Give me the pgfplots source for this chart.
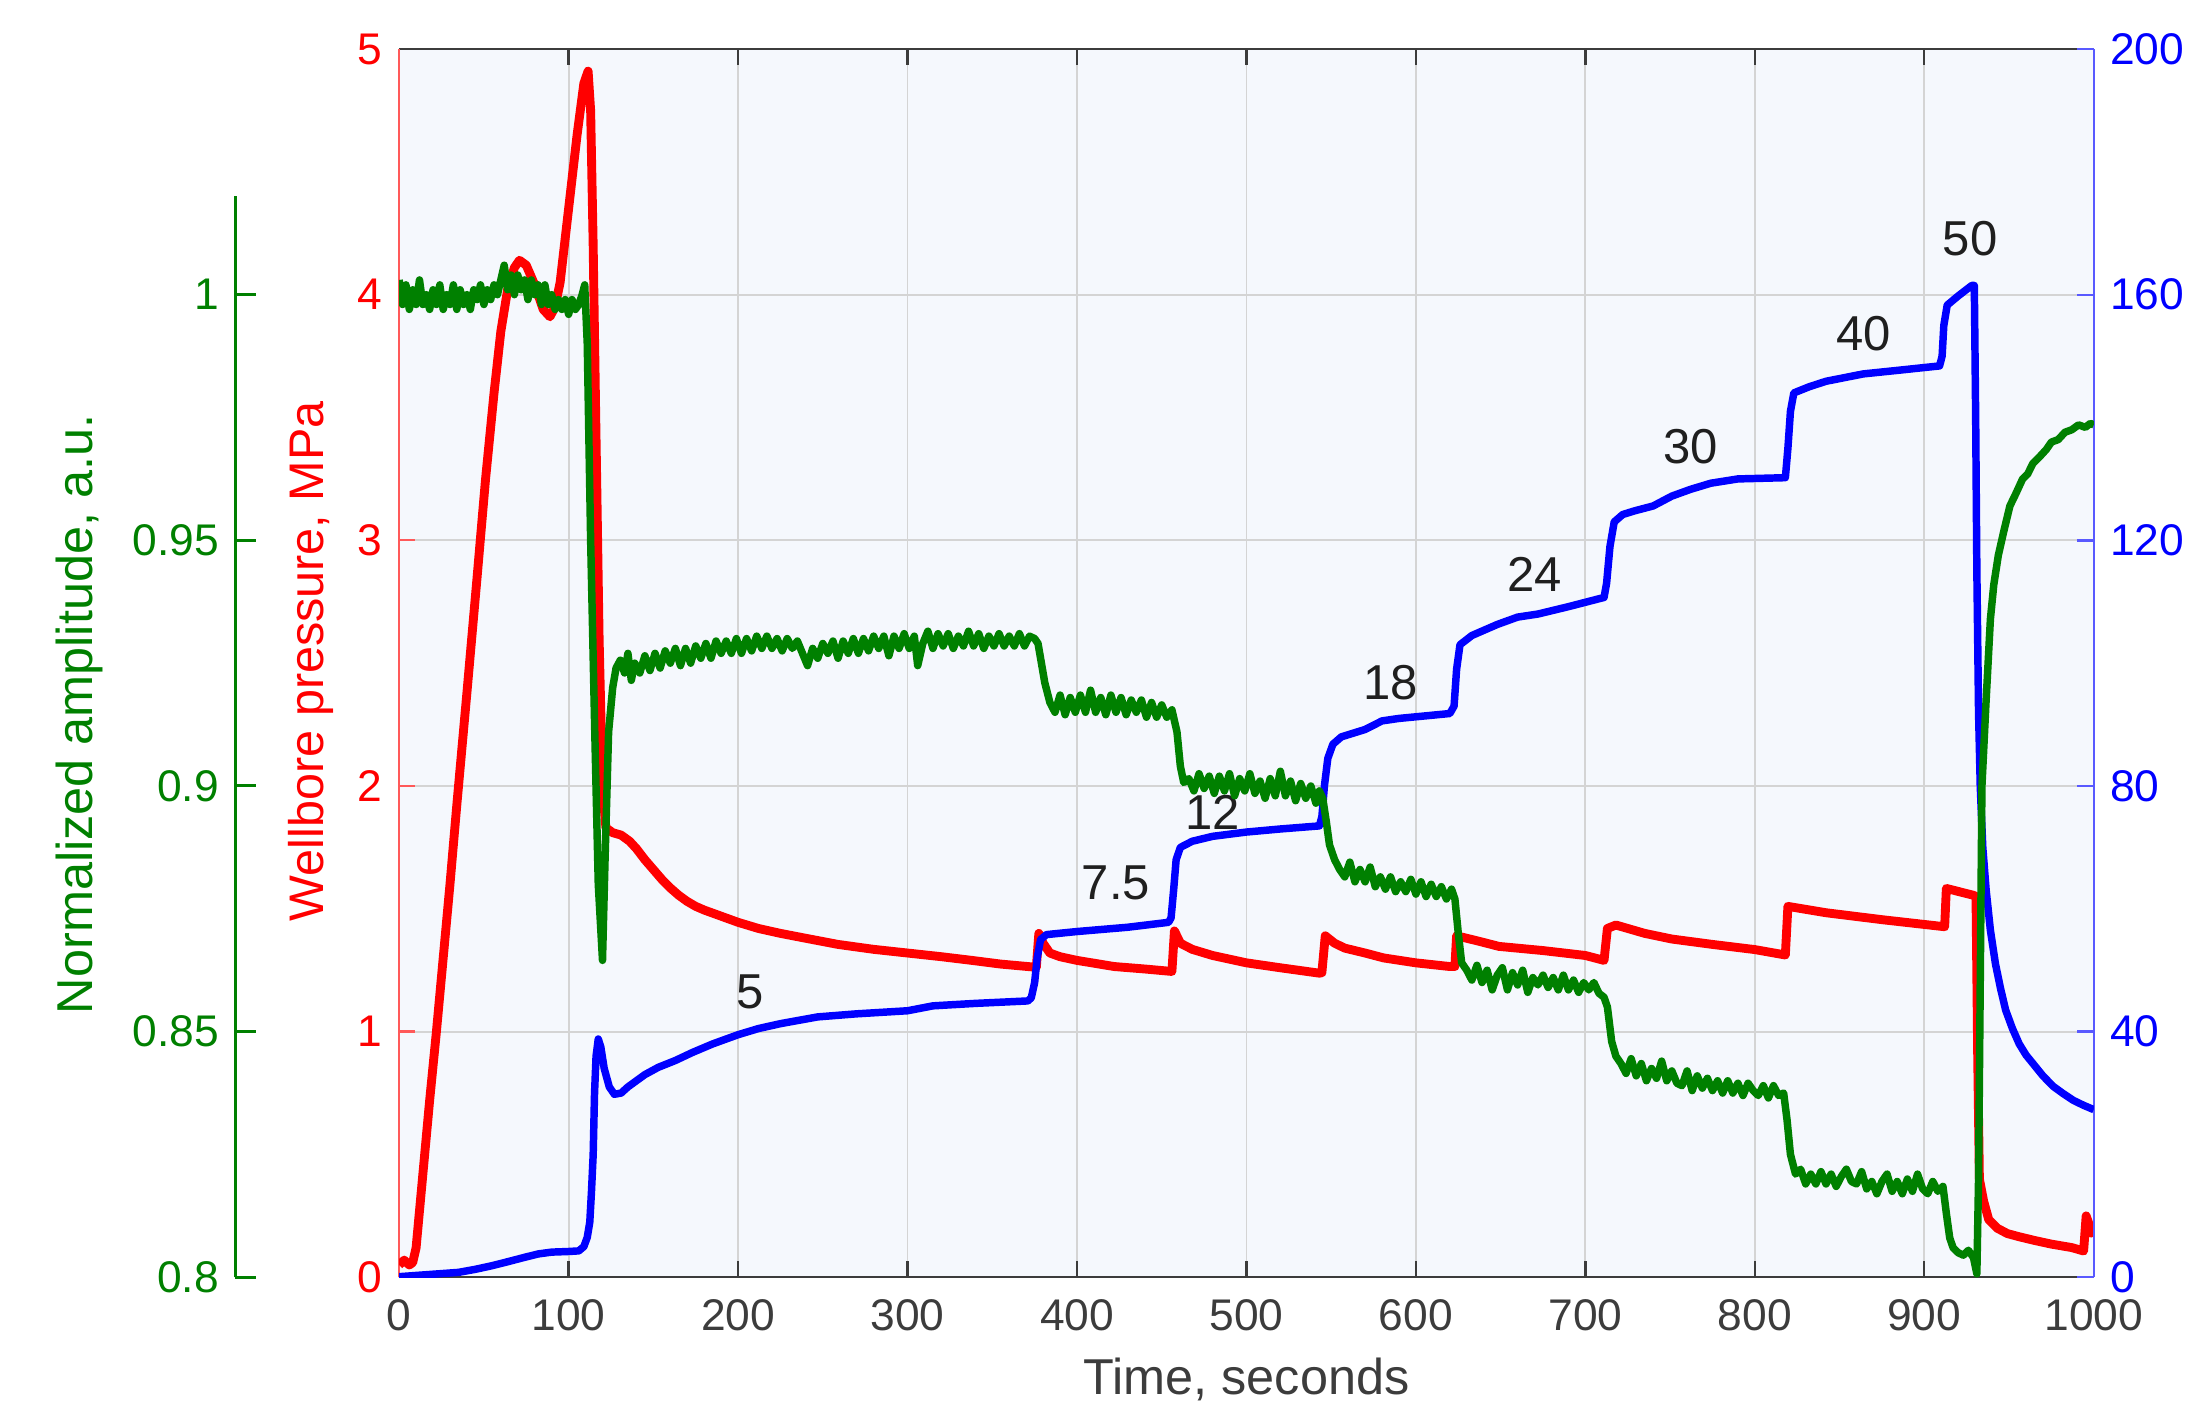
\documentclass[border=0pt]{standalone}
\usepackage{pgfplots}
\pgfplotsset{compat=1.18}
\usepackage{fontspec}
\setmainfont{Liberation Sans}
\setsansfont{Liberation Sans}
\definecolor{mgreen}{RGB}{0,128,0}
\definecolor{bgc}{RGB}{245,248,253}
\definecolor{axgray}{RGB}{60,60,60}
\begin{document}
\begin{tikzpicture}
\path[use as bounding box] (-85.5pt,-27.3pt) rectangle (384.9pt,273.6pt);
\pgfplotsset{
  base/.style={scale only axis, width=363pt, height=263.1pt, xmin=0, xmax=1000,
    /pgf/number format/assume math mode=true,
    /pgf/number format/1000 sep={},
    scaled ticks=false,
    tick label style={font=\fontsize{9.5}{11}\selectfont},
    label style={font=\fontsize{10.8}{13}\selectfont},
    major tick length=3.5pt,
  },
}
% ---------------- red: wellbore pressure ----------------
\begin{axis}[base, ymin=0, ymax=5,
  axis x line*=box, axis y line*=left,
  axis background/.style={fill=bgc},
  grid=major, major grid style={black!17, line width=0.4pt},
  xtick={0,100,...,1000}, ytick={0,1,...,5},
  x axis line style={axgray, line width=0.5pt},
  y axis line style={red!65, line width=0.5pt},
  xtick style={axgray, line width=0.5pt}, ytick style={red!65, line width=0.5pt},
  xticklabel style={text=axgray, yshift=-1.2pt}, yticklabel style={text=red},
  xlabel={Time, seconds},
  xlabel style={text=axgray, at={(axis description cs:0.5,-0.0832)}, anchor=center},
  ylabel={Wellbore pressure, MPa},
  ylabel style={text=red, font=\fontsize{10.4}{13}\selectfont, at={(axis description cs:-0.0521,0.5017)}, anchor=center},
]
\addplot[red, line width=1.9pt, line join=round] coordinates {
(0,0.05)(3,0.07)(6,0.05)(8,0.06)(10,0.12)(14,0.42)(18,0.72)(22,1.0)(26,1.3)(30,1.6)
(34,1.92)(40,2.38)(46,2.85)(51,3.25)(56,3.6)(60,3.85)(64,4.02)(68,4.11)(71,4.14)(75,4.12)(80,4.04)
(85,3.94)(89,3.91)(92,3.95)(95,4.05)(100,4.35)(105,4.65)(109,4.86)(111.5,4.91)(113,4.75)
(114.5,4.2)(116,3.5)(118,2.6)(120,2.0)(122,1.83)(126,1.81)(131,1.80)(136,1.775)(140,1.745)
(145,1.70)(150,1.66)(155,1.62)(160,1.585)(165,1.555)(170,1.53)(175,1.51)(180,1.495)
(190,1.47)(200,1.445)(212,1.42)(225,1.40)(240,1.38)(259,1.355)(280,1.335)(300,1.32)
(320,1.305)(338,1.29)(355,1.275)(371,1.265)(376,1.262)(377.5,1.40)(380,1.36)(384,1.32)
(390,1.305)(400,1.29)(422,1.265)(440,1.255)(456,1.245)(457.5,1.41)(461,1.36)(468,1.335)
(480,1.31)(500,1.28)(520,1.26)(543,1.238)(544.5,1.24)(546.5,1.39)(552,1.36)(558,1.34)
(570,1.32)(581,1.30)(600,1.28)(620,1.265)(623,1.265)(624,1.39)(636,1.37)(649,1.347)
(675,1.33)(700,1.31)(711,1.29)(713,1.42)(718,1.434)(735,1.40)(751,1.377)(775,1.355)
(800,1.334)(818,1.312)(819.5,1.51)(842,1.484)(876,1.455)(912,1.427)(913,1.583)(929,1.555)
(930.5,1.55)(931.5,0.9)(932.5,0.40)(935,0.31)(938,0.235)(943,0.20)(949,0.178)(956,0.165)
(965,0.150)(975,0.135)(987,0.121)(994,0.107)(995.5,0.25)(997,0.22)(998.5,0.18)(1000,0.21)
};
\end{axis}
% ---------------- blue ----------------
\begin{axis}[base, ymin=0, ymax=200,
  axis y line*=right, axis x line=none,
  ytick={0,40,...,200},
  y axis line style={blue!65, line width=0.5pt},
  ytick style={blue!65, line width=0.5pt},
  yticklabel style={text=blue},
]
\addplot[blue, line width=1.6pt, line join=round] coordinates {
(0,0.1)(5,0.2)(15,0.4)(35,0.8)(45,1.3)(55,1.9)(65,2.6)(74,3.25)(82,3.8)(90,4.1)(100,4.2)
(106,4.3)(109,5.0)(111,6.5)(112.5,9)(113.5,14)(114.5,20)(115.3,30)(116.2,36)(117.5,38.8)
(119,37.5)(121,34)(124,31)(127,29.8)(131,30.0)(135,31)(140,32)(145,33)(153,34.2)(163,35.3)
(173,36.6)(185,38)(200,39.5)(212,40.5)(225,41.3)(247,42.4)(270,42.9)(300,43.4)(315,44.2)
(340,44.6)(371,45)(373,45.5)(375,48)(376.5,52)(378.5,55)(382,55.8)(400,56.3)(430,57)
(454,57.8)(455.5,58.5)(457,63)(458.5,68)(461,70)(468,71)(480,71.8)(500,72.5)(520,73)
(543,73.5)(544.5,75)(546,80)(548,84.5)(551,86.8)(556,88)(570,89.2)(580,90.6)(590,91)
(605,91.4)(620,91.8)(622.5,93)(624,99)(626,103)(633,104.5)(648,106.3)(660,107.5)(672,108)
(690,109.2)(711,110.7)(712.5,113)(714.5,119)(717,123)(722,124.2)(729,124.8)(740,125.6)
(751,127.2)(762,128.3)(774,129.3)(790,130)(818,130.2)(819.5,135)(821,141)(823,144)
(832,145)(842,145.9)(864,147.1)(885,147.7)(909,148.4)(910.5,150)(911.5,155)(913.5,158.3)
(920,159.8)(928,161.5)(929.5,161.5)(930.3,140)(931,115)(932,92)(933,80)(934.5,70)
(936.5,63)(939,56.5)(942,51)(945,47)(948,43.5)(952,40.5)(956,38)(960,36.2)(965,34.5)
(970,32.8)(976,31.1)(982,29.9)(988,28.8)(994,28)(1000,27.3)
};
\begin{scope}[every node/.style={font=\fontsize{10.5}{12}\selectfont, text=black!88}]
\node at (axis cs:207,46.5) {5};
\node at (axis cs:423,64.3) {7.5};
\node at (axis cs:480,75.7) {12};
\node at (axis cs:585,96.9) {18};
\node at (axis cs:670,114.5) {24};
\node at (axis cs:762,135.2) {30};
\node at (axis cs:864,153.7) {40};
\node at (axis cs:927,169.2) {50};
\end{scope}
\end{axis}
% ---------------- green data ----------------
\begin{axis}[base, ymin=0.8, ymax=1.05, hide axis]
\addplot[mgreen, line width=1.6pt, line join=round] coordinates {
(0,1.003)(2,0.998)(4,1.002)(6,0.997)(8,1.001)(10,0.998)(12,1.003)(14,0.998)(16,1.000)(18,0.997)
(20,1.001)(22,0.998)(24,1.002)(26,0.997)(28,1.000)(30,0.998)(32,1.002)(34,0.997)(36,1.001)
(38,0.998)(40,1.000)(42,0.997)(44,1.001)(46,0.999)(48,1.002)(50,0.998)(52,1.001)(54,0.999)
(56,1.002)(58,1.000)(60,1.003)(62,1.006)(64,1.001)(66,1.004)(68,1.000)(70,1.004)(72,1.001)
(74,1.003)(76,0.999)(78,1.003)(80,1.000)(82,1.002)(84,0.998)(86,1.002)(88,0.998)(90,1.000)
(92,0.997)(94,0.999)(96,0.997)(98,0.999)(100,0.996)(102,0.999)(104,0.997)(106,0.998)(108,1.000)
(109.5,1.002)(111,0.99)(113,0.95)(115.5,0.91)(117.5,0.88)(120,0.8645)(121.5,0.885)(123.6,0.911)
(126,0.920)(128,0.924)
(130.5,0.9256)(133,0.923)(135,0.927)(137,0.9215)(139,0.925)(142,0.923)(145,0.9265)(148,0.9235)
(151,0.927)(154,0.924)(157,0.9275)(160,0.925)(163,0.928)(166,0.9245)(169,0.928)(172,0.925)
(175,0.9285)(178,0.926)(181,0.929)(184,0.926)(187,0.9295)(190,0.927)(193,0.9295)(196,0.927)
(199,0.930)(202,0.927)(205,0.930)(208,0.9275)(211,0.9305)(214,0.928)(217,0.9305)(220,0.928)
(223,0.930)(226,0.9275)(229,0.930)(232,0.928)(235,0.9295)(238,0.927)(241,0.9245)(244,0.928)
(247,0.926)(250,0.929)(253,0.927)(256,0.9295)(259,0.926)(262,0.9295)(265,0.927)(268,0.930)
(271,0.927)(274,0.930)(277,0.9275)(280,0.9305)(283,0.928)(286,0.9305)(289,0.9265)(292,0.9305)
(295,0.928)(298,0.931)(301,0.928)(304,0.9305)(306,0.9245)(309,0.929)(312,0.9315)(315,0.928)
(318,0.931)(321,0.9285)(324,0.931)(327,0.928)(330,0.9305)(333,0.9285)(336,0.9315)(339,0.9285)
(342,0.931)(345,0.928)(348,0.9305)(351,0.9285)(354,0.931)(357,0.9285)(360,0.9305)(363,0.9285)
(366,0.931)(369,0.9285)(372,0.9305)(375,0.930)
(377,0.929)(379,0.925)(381,0.921)
(384,0.917)(387,0.915)(390,0.9185)(393,0.9145)(396,0.918)(399,0.915)(402,0.9185)(405,0.915)
(408,0.9195)(411,0.915)(414,0.918)(417,0.9145)(420,0.9185)(423,0.915)(426,0.918)(429,0.9145)
(432,0.9175)(435,0.915)(438,0.9175)(441,0.914)(444,0.917)(447,0.914)(450,0.9165)(453,0.914)
(456,0.9155)(459,0.911)(461,0.904)
(463,0.9007)(466,0.9015)(469,0.899)(472,0.9025)(475,0.8995)(478,0.902)(481,0.8985)(484,0.902)
(487,0.899)(490,0.9025)(493,0.898)(496,0.9015)(499,0.899)(502,0.9025)(505,0.8985)(508,0.901)
(511,0.8975)(514,0.9015)(517,0.898)(520,0.903)(523,0.898)(526,0.901)(529,0.897)(532,0.9005)
(535,0.8975)(538,0.9)(541,0.8965)(543,0.899)(545,0.8975)(547,0.893)(549,0.888)(552,0.885)
(555,0.883)(558,0.8815)(561,0.8845)(564,0.8805)(567,0.883)(570,0.8805)(573,0.8835)(576,0.8795)
(579,0.8815)(582,0.879)(585,0.8815)(588,0.8785)(591,0.8805)(594,0.8785)(597,0.881)(600,0.878)
(603,0.8805)(606,0.8775)(609,0.88)(612,0.8775)(615,0.8795)(618,0.877)(621,0.879)(623,0.877)
(625,0.870)(627,0.864)
(630,0.8625)(633,0.8605)(636,0.8635)(639,0.86)(642,0.8625)(645,0.8585)(648,0.8615)(651,0.863)
(654,0.8585)(657,0.862)(660,0.8595)(663,0.8625)(666,0.858)(669,0.861)(672,0.8595)(675,0.8615)
(678,0.859)(681,0.861)(684,0.8585)(687,0.8615)(690,0.8585)(693,0.8605)(696,0.858)(699,0.8600)
(702,0.8585)(705,0.86)(708,0.8578)(711,0.857)(713,0.855)(715.5,0.848)(718,0.845)
(721,0.8435)(724,0.8415)(727,0.8445)(730,0.841)(733,0.8435)(736,0.84)(739,0.8425)(742,0.8405)
(745,0.844)(748,0.8400)(751,0.842)(754,0.8395)(757,0.839)(760,0.842)(763,0.838)(766,0.841)
(769,0.8385)(772,0.8405)(775,0.838)(778,0.84)(781,0.8375)(784,0.84)(787,0.8375)(790,0.8395)
(793,0.837)(796,0.8395)(799,0.838)(802,0.837)(805,0.839)(808,0.8365)(811,0.839)(814,0.837)
(817,0.8375)(819,0.832)(821,0.825)
(824,0.821)(827,0.822)(830,0.819)(833,0.821)(836,0.819)(839,0.8215)(842,0.819)(845,0.821)
(848,0.8185)(851,0.8205)(854,0.822)(857,0.8195)(860,0.819)(863,0.8215)(866,0.818)(869,0.8195)
(872,0.817)(875,0.8195)(878,0.821)(881,0.8175)(884,0.8195)(887,0.817)(890,0.82)(893,0.8175)
(896,0.821)(899,0.818)(902,0.817)(905,0.8195)(908,0.8175)(911,0.8185)(913,0.813)(915,0.808)
(917,0.806)(920,0.805)(923,0.8045)(926,0.8055)(929,0.804)(931,0.8007)
(932,0.82)(933,0.86)(934,0.90)(936.4,0.917)(939,0.934)(941,0.941)(943.7,0.947)(947,0.952)
(950.5,0.957)(954,0.9595)(958,0.9625)(961,0.9635)(964,0.9656)(968,0.967)(972,0.9685)
(975,0.970)(979,0.9705)(983,0.972)(987,0.9725)(991,0.9735)(995,0.973)(998,0.9738)(1000,0.9735)
};
\end{axis}
% ---------------- green ruler ----------------
\begin{axis}[scale only axis, width=10pt, height=231.6pt, at={(-35.1pt,0pt)}, anchor=south west,
  xmin=0, xmax=1, ymin=0.8, ymax=1.02,
  axis y line*=left, axis x line=none,
  ytick={0.8,0.85,0.9,0.95,1}, yticklabels={0.8,0.85,0.9,0.95,1},
  major tick length=4.5pt,
  tick label style={font=\fontsize{9.5}{11}\selectfont},
  label style={font=\fontsize{10.8}{13}\selectfont},
  y axis line style={mgreen, line width=0.6pt},
  ytick style={mgreen, line width=0.6pt},
  yticklabel style={text=mgreen},
  ylabel={Normalized amplitude, a.u.},
  ylabel style={text=mgreen, at={(axis description cs:-3.33,0.5207)}, anchor=center},
]
\addplot[draw=none] coordinates {(0,0.9)};
\end{axis}
\end{tikzpicture}
\end{document}
